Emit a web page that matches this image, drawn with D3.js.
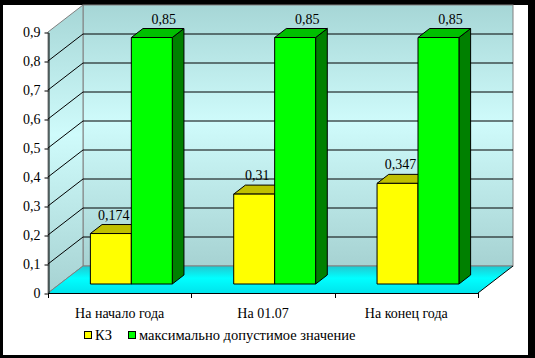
<!DOCTYPE html>
<html><head><meta charset="utf-8">
<script src="https://cdn.jsdelivr.net/npm/d3@7"></script>
<style>html,body{margin:0;padding:0;background:#000;}svg{display:block;}</style>
</head><body>
<svg id="c" width="535" height="358"></svg>
<script>
const categories = ["На начало года", "На 01.07", "На конец года"];
const seriesNames = ["КЗ", "максимально допустимое значение"];
const kzValues = [0.174, 0.31, 0.347];
const maxValues = [0.85, 0.85, 0.85];
const valueLabels = [["0,174", "0,31", "0,347"], ["0,85", "0,85", "0,85"]];
const yTicks = [0, 0.1, 0.2, 0.3, 0.4, 0.5, 0.6, 0.7, 0.8, 0.9];

const svg = d3.select("#c");
const font = "'Liberation Serif', 'Times New Roman', serif";
const W = 535, H = 358;

// frame
svg.append("rect").attr("x", 0).attr("y", 0).attr("width", W).attr("height", H).attr("fill", "#000");
svg.append("rect").attr("x", 3).attr("y", 5).attr("width", 525).attr("height", 350).attr("fill", "#fff");

const left = 48, right = 478, bottom = 293;
const depth = {dx: 35, dy: -27};
const x0 = d3.scaleBand().domain(categories).range([left, right]).padding(0);
const x1 = d3.scaleBand().domain(seriesNames).range([0, x0.bandwidth()]).paddingInner(0).paddingOuter(0.75);
const y = d3.scaleLinear().domain([0, 0.9]).range([bottom, 32]);

const defs = svg.append("defs");
const wg = defs.append("linearGradient").attr("id", "wall").attr("x1", 0).attr("y1", 0).attr("x2", 0).attr("y2", 1);
wg.append("stop").attr("offset", "0%").attr("stop-color", "#a6d6d6");
wg.append("stop").attr("offset", "45%").attr("stop-color", "#cffbfb");
wg.append("stop").attr("offset", "100%").attr("stop-color", "#a6d2d2");
const fg = defs.append("linearGradient").attr("id", "floor").attr("x1", 0).attr("y1", 0).attr("x2", 0).attr("y2", 1);
fg.append("stop").attr("offset", "0%").attr("stop-color", "#20c8d0");
fg.append("stop").attr("offset", "45%").attr("stop-color", "#00ffff");
fg.append("stop").attr("offset", "100%").attr("stop-color", "#00e4ec");

const pt = (x, yy) => x + "," + yy;
const yTop = y(0.9);
// back wall
svg.append("rect").attr("x", left + depth.dx).attr("y", yTop + depth.dy)
  .attr("width", right - left).attr("height", bottom - yTop)
  .attr("fill", "url(#wall)").attr("stroke", "#808080");
// side wall
svg.append("polygon").attr("points", [pt(left, yTop), pt(left + depth.dx, yTop + depth.dy), pt(left + depth.dx, bottom + depth.dy), pt(left, bottom)].join(" "))
  .attr("fill", "url(#wall)").attr("stroke", "#808080");
// floor
svg.append("polygon").attr("points", [pt(left, bottom), pt(right, bottom), pt(right + depth.dx, bottom + depth.dy), pt(left + depth.dx, bottom + depth.dy)].join(" "))
  .attr("fill", "url(#floor)").attr("stroke", "none");
svg.append("line").attr("x1", left + depth.dx).attr("x2", right + depth.dx).attr("y1", bottom + depth.dy).attr("y2", bottom + depth.dy).attr("stroke", "#808080");
svg.append("line").attr("x1", left).attr("y1", bottom).attr("x2", left + depth.dx).attr("y2", bottom + depth.dy).attr("stroke", "#808080");
svg.append("line").attr("x1", right).attr("y1", bottom).attr("x2", right + depth.dx).attr("y2", bottom + depth.dy).attr("stroke", "#000");

// gridlines
const grid = yTicks.filter(v => v > 0 && v < 0.9);
grid.forEach(v => {
  svg.append("polyline").attr("points", [pt(left, y(v)), pt(left + depth.dx, y(v) + depth.dy), pt(right + depth.dx, y(v) + depth.dy)].join(" "))
    .attr("fill", "none").attr("stroke", "#000").attr("stroke-width", 1);
});

// axes
const yAxis = d3.axisLeft(y).tickValues(yTicks).tickSize(4).tickSizeOuter(0)
  .tickFormat(d => d === 0 ? "0" : d3.format(".1f")(d).replace(".", ","));
const ya = svg.append("g").attr("transform", "translate(" + (left + 0.5) + ",0.5)").call(yAxis);
ya.select(".domain").attr("stroke", "#000");
ya.selectAll("text").attr("font-family", font).attr("font-size", 14).attr("fill", "#000").attr("dx", -1);
ya.selectAll("line").attr("stroke", "#000");

const xTicks = [left].concat(categories.map(c => x0(c) + x0.bandwidth()));
svg.append("line").attr("x1", left).attr("x2", right).attr("y1", bottom + 0.5).attr("y2", bottom + 0.5).attr("stroke", "#000");
xTicks.forEach(t => svg.append("line").attr("x1", Math.round(t) + 0.5).attr("x2", Math.round(t) + 0.5).attr("y1", bottom).attr("y2", bottom + 5).attr("stroke", "#000"));
categories.forEach(c => svg.append("text").attr("x", x0(c) + x0.bandwidth() / 2).attr("y", 318)
  .attr("text-anchor", "middle").attr("font-family", font).attr("font-size", 14).text(c));

// bars
const colors = [
  {front: "#ffff00", top: "#c0c000", side: "#a0a000"},
  {front: "#00ff00", top: "#00c000", side: "#008000"}
];
const bd = {dx: depth.dx / 3, dy: depth.dy / 3};
const seriesVals = [kzValues, maxValues];
const labelShift = [3, 12];
categories.forEach((c, ci) => {
  seriesNames.forEach((s, si) => {
    const v = seriesVals[si][ci];
    const xl = x0(c) + x1(s) + bd.dx, xr = xl + x1.bandwidth();
    const yb = y(0) + bd.dy, yt = y(v) + bd.dy;
    const g = svg.append("g").attr("stroke", "#000").attr("stroke-width", 1).attr("stroke-linejoin", "round");
    g.append("polygon").attr("points", [pt(xr, yt), pt(xr + bd.dx, yt + bd.dy), pt(xr + bd.dx, yb + bd.dy), pt(xr, yb)].join(" ")).attr("fill", colors[si].side);
    g.append("polygon").attr("points", [pt(xl, yt), pt(xl + bd.dx, yt + bd.dy), pt(xr + bd.dx, yt + bd.dy), pt(xr, yt)].join(" ")).attr("fill", colors[si].top);
    g.append("rect").attr("x", xl).attr("y", yt).attr("width", xr - xl).attr("height", yb - yt).attr("fill", colors[si].front);
    svg.append("text").attr("x", (xl + xr) / 2 + labelShift[si]).attr("y", yt + bd.dy - 5)
      .attr("text-anchor", "middle").attr("font-family", font).attr("font-size", 14).text(valueLabels[si][ci]);
  });
});

// legend
const legX = [84, 128];
seriesNames.forEach((s, si) => {
  svg.append("rect").attr("x", legX[si] + 0.5).attr("y", 331.5).attr("width", 7).attr("height", 7)
    .attr("fill", colors[si].front).attr("stroke", "#000");
  svg.append("text").attr("x", legX[si] + 11).attr("y", 340).attr("font-family", font).attr("font-size", 14.5).text(s);
});
</script>
</body></html>
